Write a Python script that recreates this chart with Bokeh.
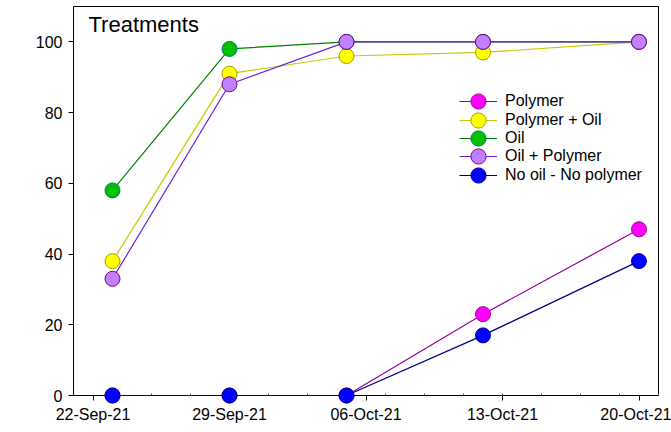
import pandas as pd
from bokeh.plotting import figure
from bokeh.models import (FixedTicker, DatetimeTickFormatter, Range1d, Legend,
                          LegendItem, Label)
from bokeh.embed import file_html
from bokeh.resources import INLINE

# ---- data ----
dates = ["2021-09-23", "2021-09-29", "2021-10-05", "2021-10-12", "2021-10-20"]
polymer = [0, 0, 0, 23, 47]
polymer_oil = [38, 91, 96, 97, 100]
oil = [58, 98, 100, 100, 100]
oil_polymer = [33, 88, 100, 100, 100]
no_oil_no_polymer = [0, 0, 0, 17, 38]

series_names = ["Polymer", "Polymer + Oil", "Oil", "Oil + Polymer", "No oil - No polymer"]

tick_dates = ["2021-09-22", "2021-09-29", "2021-10-06", "2021-10-13", "2021-10-20"]
x_start, x_end = "2021-09-21", "2021-10-21"
y_ticks = [0, 20, 40, 60, 80, 100]

FONT = "Liberation Sans"

x = pd.to_datetime(dates)
to_ms = lambda s: pd.Timestamp(s).value / 1e6
major = [to_ms(d) for d in tick_dates]
minor = [to_ms(d) for d in pd.date_range(x_start, x_end, freq="2D")]

p = figure(width=671, height=432, x_axis_type="datetime",
           x_range=Range1d(to_ms(x_start), to_ms(x_end)),
           y_range=Range1d(0, 110),
           output_backend="svg", toolbar_location=None,
           min_border_left=73, min_border_right=13,
           min_border_top=6, min_border_bottom=37)
p.grid.visible = False
p.outline_line_color = "black"
p.outline_line_alpha = 1
p.outline_line_width = 1
p.background_fill_color = "white"
p.border_fill_color = "white"

p.xaxis.ticker = FixedTicker(ticks=major, minor_ticks=minor)
fmt = "%d-%b-%y"
p.xaxis.formatter = DatetimeTickFormatter(days=fmt, months=fmt, years=fmt,
                                          hours=fmt, minutes=fmt, seconds=fmt,
                                          milliseconds=fmt, microseconds=fmt,
                                          hourmin=fmt, minsec=fmt)
p.yaxis.ticker = FixedTicker(ticks=y_ticks, minor_ticks=[])

for ax in (p.xaxis, p.yaxis):
    ax.axis_line_color = "black"
    ax.axis_line_width = 1
    ax.major_tick_line_color = "black"
    ax.major_tick_out = 5
    ax.major_tick_in = 0
    ax.major_label_text_font = FONT
    ax.major_label_text_font_size = "16px"
    ax.major_label_text_color = "black"
p.xaxis.minor_tick_in = 2
p.xaxis.minor_tick_out = 0
p.xaxis.minor_tick_line_color = "#555555"
p.yaxis.minor_tick_line_color = None
p.yaxis.major_label_standoff = 6
p.xaxis.major_label_standoff = 5

styles = [
    (polymer, "#990099", "#FF00FF", "#9A009A"),
    (polymer_oil, "#C8C800", "#FFFF00", "#A0A000"),
    (oil, "#008000", "#00C000", "#007A60"),
    (oil_polymer, "#7020D0", "#C080FF", "#800080"),
    (no_oil_no_polymer, "#000080", "#0000FF", "#000090"),
]

# one legend per entry so the legend markers can be full size with tight rows
leg_x, leg_first_center, leg_pitch, glyph_box = 386, 294, 18.5, 38
for i, (name, (vals, lc, fc, oc)) in enumerate(zip(series_names, styles)):
    r1 = p.line(x, vals, line_color=lc, line_width=1.2)
    r2 = p.scatter(x, vals, size=15, fill_color=fc, line_color=oc, line_width=1)
    r1.level = "overlay"
    r2.level = "overlay"
    center = leg_first_center - i * leg_pitch
    leg = Legend(items=[LegendItem(label=name, renderers=[r1, r2])],
                 location=(leg_x, round(center - glyph_box / 2)))
    leg.border_line_color = None
    leg.background_fill_alpha = 0
    leg.padding = 0
    leg.margin = 0
    leg.glyph_width = glyph_box
    leg.glyph_height = glyph_box
    leg.label_height = 18
    leg.label_standoff = 8
    leg.label_text_font = FONT
    leg.label_text_font_size = "16px"
    leg.label_text_color = "black"
    p.add_layout(leg, "center")

title = Label(x=15, y=371, x_units="screen", y_units="screen", text="Treatments",
              text_font=FONT, text_font_size="22px", text_color="black",
              text_baseline="alphabetic")
p.add_layout(title)

open("out.html", "w").write(file_html(p, INLINE))
